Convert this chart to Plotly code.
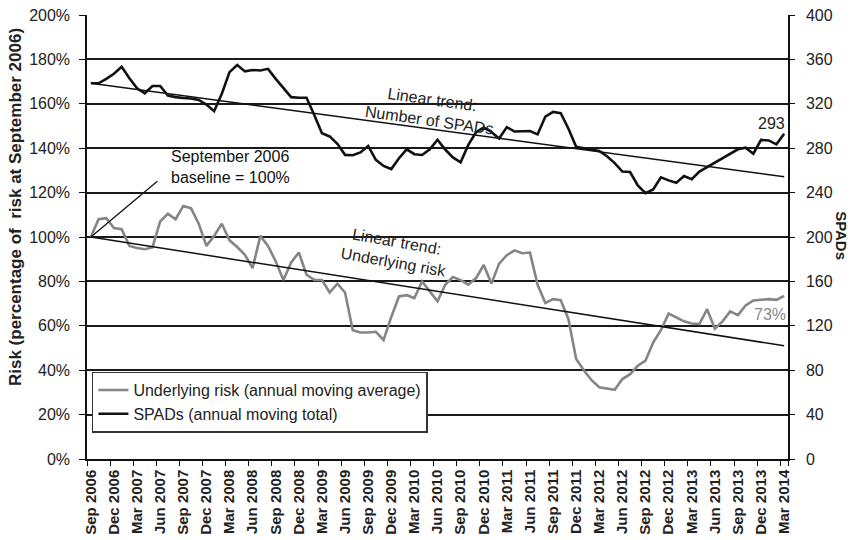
import plotly.graph_objects as go

# ---- data (monthly, Sep 2006 .. Mar 2014) ----
month_idx = list(range(91))
tick_idx = list(range(0, 91, 3))
tick_labels = [
    "Sep 2006", "Dec 2006", "Mar 2007", "Jun 2007", "Sep 2007", "Dec 2007",
    "Mar 2008", "Jun 2008", "Sep 2008", "Dec 2008", "Mar 2009", "Jun 2009",
    "Sep 2009", "Dec 2009", "Mar 2010", "Jun 2010", "Sep 2010", "Dec 2010",
    "Mar 2011", "Jun 2011", "Sep 2011", "Dec 2011", "Mar 2012", "Jun 2012",
    "Sep 2012", "Dec 2012", "Mar 2013", "Jun 2013", "Sep 2013", "Dec 2013",
    "Mar 2014",
]

underlying_risk = [
    100, 108, 108.5, 104, 103.5, 96, 95, 94.5, 95.3, 107,
    110.5, 108, 114, 113, 106, 96, 100.5, 106, 98.5, 95.5,
    92, 86, 100.5, 96, 89, 80.6, 88.5, 93, 83, 80.7,
    80.6, 75, 79, 75, 58, 57, 57, 57.3, 53.6, 64,
    73.2, 73.8, 72.5, 80, 75.5, 71, 78.5, 82, 80.6, 78.5,
    81.5, 87.4, 79, 88, 91.8, 94, 92.7, 93, 78.5, 70.3,
    72, 71.5, 63, 45, 40, 35.5, 32.3, 31.8, 31.2, 36,
    38.2, 42, 44.3, 52.5, 58, 65.5, 63.7, 62, 61, 60.8,
    67.5, 58.7, 62, 66.5, 64.8, 69.2, 71.4, 71.6, 72, 71.7,
    73.5,
]

spads = [
    338.5, 338.5, 342.5, 347, 353.4, 343, 334, 329.5, 336, 336,
    327.5, 326, 325.2, 324.8, 323.5, 319.3, 313.3, 329, 348.5, 355,
    349.2, 350.5, 350, 351.5, 342.5, 334, 326, 325.5, 325.5, 310,
    293.4, 290.6, 284, 274, 273.7, 276.2, 282, 269.5, 264, 261.2,
    271, 279, 274.6, 273.9, 279, 287.6, 278.8, 271.7, 267.3, 283,
    294.4, 298.6, 294.6, 288.7, 299, 295, 295.5, 295.5, 292.5, 308.5,
    312.7, 311.5, 297.5, 281.3, 280, 279, 277.6, 272.8, 266.6, 259,
    258.5, 246.5, 239.5, 242.9, 253.7, 251, 248.8, 255, 252, 258.9,
    263, 267.1, 271.4, 275.2, 279, 280.5, 275, 287.5, 287, 283.5,
    293,
]

trend_x = [0, 90]
risk_trend = [100, 51]
spad_trend = [338.5, 254.3]

left_ticks = list(range(0, 201, 20))
right_ticks = list(range(0, 401, 40))

FONT = "Arial, Liberation Sans, sans-serif"
TXT = "#222222"

fig = go.Figure()

fig.add_trace(go.Scatter(
    x=month_idx, y=underlying_risk, mode="lines",
    name="Underlying risk (annual moving average)",
    line=dict(color="#858585", width=2.6), yaxis="y",
))
fig.add_trace(go.Scatter(
    x=month_idx, y=spads, mode="lines",
    name="SPADs (annual moving total)",
    line=dict(color="#111111", width=2.6), yaxis="y2",
))
fig.add_trace(go.Scatter(
    x=trend_x, y=risk_trend, mode="lines", showlegend=False,
    line=dict(color="#111111", width=1.5), yaxis="y",
))
fig.add_trace(go.Scatter(
    x=trend_x, y=spad_trend, mode="lines", showlegend=False,
    line=dict(color="#111111", width=1.5), yaxis="y2",
))

fig.update_layout(
    width=852, height=540,
    margin=dict(l=87, r=64, t=15, b=81),
    paper_bgcolor="white", plot_bgcolor="white",
    font=dict(family=FONT, size=16, color=TXT),
    xaxis=dict(
        range=[-0.5, 90.5], tickmode="array", tickvals=tick_idx,
        ticktext=tick_labels, tickangle=-90, ticks="",
        tickfont=dict(size=15, family=FONT, color=TXT, weight="bold"),
        ticklabelstandoff=3,
        showline=True, linecolor="#111111", linewidth=1.5,
        showgrid=False, zeroline=False, automargin=False,
        minor=dict(tickmode="array", tickvals=[v - 0.5 for v in tick_idx] + [90.5],
                   ticks="outside", ticklen=5, tickcolor="#111111", tickwidth=1.2,
                   showgrid=False),
    ),
    yaxis=dict(
        range=[0, 200], tickmode="array", tickvals=left_ticks,
        ticktext=[f"{v}%" for v in left_ticks],
        ticks="outside", ticklen=6, tickcolor="#111111", tickwidth=1.2,
        ticklabelstandoff=6, automargin=False,
        showline=True, linecolor="#111111", linewidth=1.5,
        showgrid=True, gridcolor="#1a1a1a", gridwidth=1.6, zeroline=False,
    ),
    yaxis2=dict(
        range=[0, 400], tickmode="array", tickvals=right_ticks,
        overlaying="y", side="right",
        ticks="outside", ticklen=5, tickcolor="#111111", tickwidth=1.2,
        ticklabelstandoff=8, automargin=False,
        showline=True, linecolor="#111111", linewidth=1.5,
        showgrid=False, zeroline=False,
    ),
    legend=dict(
        x=0.007, y=0.197, xanchor="left", yanchor="top",
        bgcolor="white", bordercolor="#333333", borderwidth=1.5,
        font=dict(size=16, color=TXT), itemwidth=30,
        tracegroupgap=0,
    ),
    showlegend=True,
)

annotations = [
    dict(text="<b>Risk (percentage of \u00a0risk at September 2006)</b>", textangle=-90,
         xref="paper", yref="paper", x=-0.103, y=0.567, showarrow=False,
         font=dict(size=17, family=FONT, color=TXT), xanchor="center", yanchor="middle"),
    dict(text="<b>SPADs</b>", textangle=90, xref="paper", yref="paper",
         x=1.077, y=0.502, xanchor="center", yanchor="middle",
         showarrow=False, font=dict(size=15, color=TXT)),
    dict(text="Linear trend:<br>Number of SPADs", textangle=8, xref="x", yref="y2",
         x=44.1, y=314.4, xanchor="center", yanchor="middle",
         showarrow=False, font=dict(size=16, color=TXT)),
    dict(text="Linear trend:<br>Underlying risk", textangle=10, xref="x", yref="y",
         x=39.5, y=93.2, xanchor="center", yanchor="middle",
         showarrow=False, font=dict(size=16, color=TXT)),
    dict(text="September 2006<br>baseline = 100%", xref="x", yref="y",
         x=10.2, y=131.5, xanchor="left", yanchor="middle", align="left",
         showarrow=False, font=dict(size=16, color="#111111")),
    dict(text="", xref="x", yref="y", x=0, y=100, ax=68, ay=-57,
         showarrow=True, arrowhead=0, arrowwidth=1.3, arrowcolor="#111111"),
    dict(text="293", xref="x", yref="y2", x=88.3, y=302, xanchor="center",
         yanchor="middle", showarrow=False, font=dict(size=16, color="#222222")),
    dict(text="73%", xref="x", yref="y", x=88.2, y=65.3, xanchor="center",
         yanchor="middle", showarrow=False, font=dict(size=16, color="#8a8a8a")),
]
fig.update_layout(annotations=annotations)

fig.write_html("out.html", config={"displayModeBar": False})

# remove the browser's default page margin so the figure sits at (0, 0)
with open("out.html", "r", encoding="utf-8") as fh:
    html = fh.read()
html = html.replace("<head>", "<head><style>html,body{margin:0;padding:0;overflow:hidden;}</style>", 1)
with open("out.html", "w", encoding="utf-8") as fh:
    fh.write(html)
